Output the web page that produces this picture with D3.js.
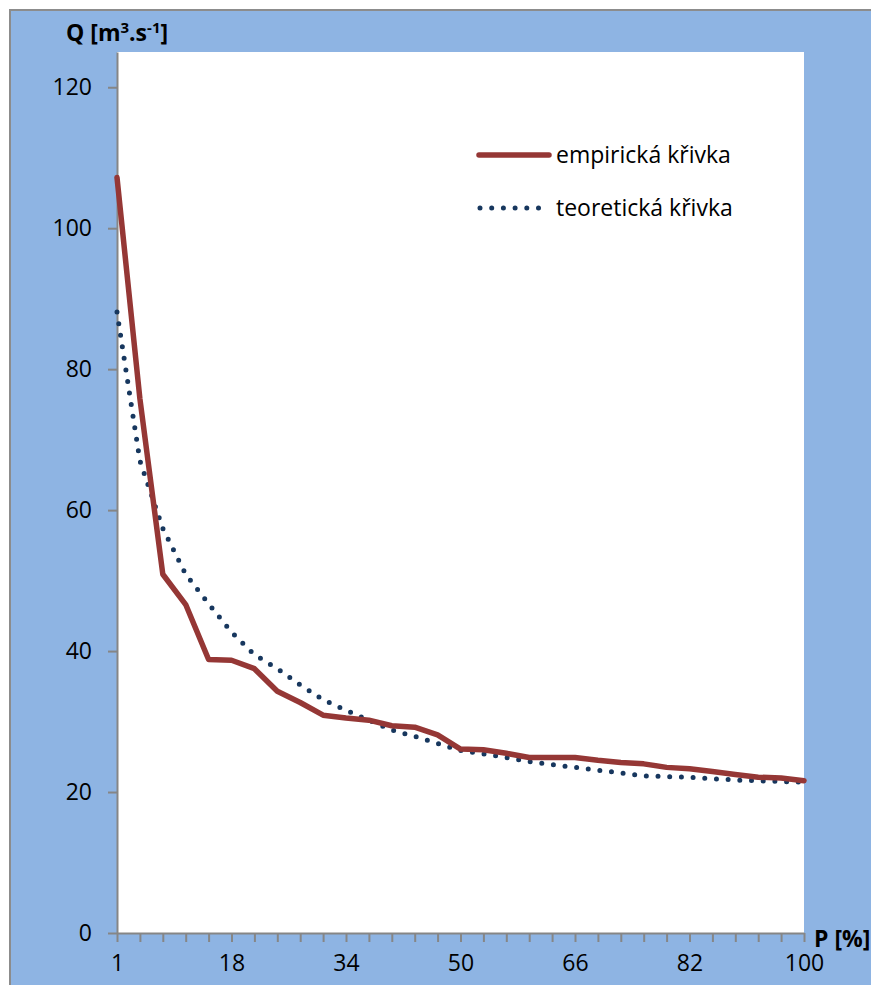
<!DOCTYPE html>
<html>
<head>
<meta charset="utf-8">
<script src="https://cdn.jsdelivr.net/npm/d3@7"></script>
<style>
  body { margin: 0; background: #fff; }
  text { font-family: "Open Sans", "Liberation Sans", sans-serif; fill: #000; }
</style>
</head>
<body>
<script>
// P [%] categories (only every 5th one is labelled)
const pCategories = ["1", "5", "8", "11", "14", "18", "21", "24", "27", "31", "34", "37", "40", "44", "47",
  "50", "53", "56", "60", "63", "66", "69", "73", "76", "79", "82", "85", "89", "92", "95", "100"];

const empirical = [107.2, 75.8, 50.9, 46.6, 38.8, 38.7, 37.5, 34.3, 32.7, 30.9, 30.5, 30.2, 29.4, 29.2, 28.1,
  26.1, 26.0, 25.5, 24.9, 24.9, 24.9, 24.5, 24.2, 24.0, 23.5, 23.3, 22.9, 22.5, 22.1, 22.0, 21.6];

const theoretical = [88.1, 67.0, 57.4, 50.9, 46.7, 42.7, 39.5, 37.5, 35.2, 33.1, 31.6, 30.2, 28.8, 27.9, 26.9,
  25.9, 25.4, 24.9, 24.3, 23.9, 23.5, 23.1, 22.7, 22.3, 22.2, 22.1, 21.9, 21.7, 21.6, 21.5, 21.4];

const yTicks = [0, 20, 40, 60, 80, 100, 120];
const seriesNames = ["empirická křivka", "teoretická křivka"];

const W = 871, H = 985;
const plot = {left: 117, right: 804, top: 52, bottom: 933};

const svg = d3.select("body").append("svg")
  .attr("width", W)
  .attr("height", H);

// chart area background
svg.append("rect")
  .attr("x", 10).attr("y", 10)
  .attr("width", 900).attr("height", 1000)
  .attr("fill", "#8eb4e3")
  .attr("stroke", "#8c8c8c")
  .attr("stroke-width", 2);

svg.append("rect")
  .attr("x", plot.left).attr("y", plot.top)
  .attr("width", plot.right - plot.left)
  .attr("height", plot.bottom - plot.top)
  .attr("fill", "#fff");

const x = d3.scalePoint()
  .domain(pCategories)
  .range([plot.left, plot.right]);

const y = d3.scaleLinear()
  .domain([0, 125])
  .range([plot.bottom, plot.top]);

// y axis
const yAxis = d3.axisLeft(y)
  .tickValues(yTicks)
  .tickSize(9)
  .tickSizeOuter(0);

const gy = svg.append("g")
  .attr("transform", "translate(" + plot.left + ",0)")
  .call(yAxis);
gy.select(".domain").attr("stroke", "#868686").attr("stroke-width", 2);
gy.selectAll(".tick line").attr("stroke", "#868686").attr("stroke-width", 2);
gy.selectAll(".tick text")
  .style("font-size", "23px")
  .attr("fill", "#000")
  .attr("x", -25);

// x axis
const xAxis = d3.axisBottom(x)
  .tickValues(pCategories)
  .tickSize(9)
  .tickSizeOuter(0)
  .tickFormat((d, i) => i % 5 === 0 ? d : "");

const gx = svg.append("g")
  .attr("transform", "translate(0," + plot.bottom + ")")
  .call(xAxis);
gx.select(".domain").attr("stroke", "#868686").attr("stroke-width", 2);
gx.selectAll(".tick line").attr("stroke", "#868686").attr("stroke-width", 2);
gx.selectAll(".tick text")
  .style("font-size", "23px")
  .attr("fill", "#000")
  .attr("y", 22);

// axis titles
const yTitle = svg.append("text")
  .attr("x", 66)
  .attr("y", 41)
  .style("font-size", "23px")
  .style("font-weight", "bold");
yTitle.append("tspan").text("Q [m");
yTitle.append("tspan").text("3").style("font-size", "15px").attr("dy", -8);
yTitle.append("tspan").text(".s").attr("dy", 8);
yTitle.append("tspan").text("-1").style("font-size", "15px").attr("dy", -8);
yTitle.append("tspan").text("]").attr("dy", 8);

svg.append("text")
  .attr("x", 814)
  .attr("y", 947)
  .style("font-size", "23px")
  .style("font-weight", "bold")
  .text("P [%]");

// series
const line = d3.line()
  .x((d, i) => x(pCategories[i]))
  .y(d => y(d));

svg.append("path")
  .datum(theoretical)
  .attr("d", line)
  .attr("fill", "none")
  .attr("stroke", "#17375e")
  .attr("stroke-width", 5)
  .attr("stroke-linecap", "round")
  .attr("stroke-dasharray", "0 11.7");

svg.append("path")
  .datum(empirical)
  .attr("d", line)
  .attr("fill", "none")
  .attr("stroke", "#953735")
  .attr("stroke-width", 5.5)
  .attr("stroke-linejoin", "round")
  .attr("stroke-linecap", "round");

// legend
const legend = svg.append("g");
legend.append("line")
  .attr("x1", 479).attr("x2", 549)
  .attr("y1", 155).attr("y2", 155)
  .attr("stroke", "#953735")
  .attr("stroke-width", 5.5)
  .attr("stroke-linecap", "round");
legend.append("text")
  .attr("x", 556).attr("y", 155)
  .attr("dy", "0.35em")
  .style("font-size", "23px")
  .text(seriesNames[0]);

legend.append("line")
  .attr("x1", 480).attr("x2", 540)
  .attr("y1", 208).attr("y2", 208)
  .attr("stroke", "#17375e")
  .attr("stroke-width", 5)
  .attr("stroke-linecap", "round")
  .attr("stroke-dasharray", "0 11.7");
legend.append("text")
  .attr("x", 556).attr("y", 208)
  .attr("dy", "0.35em")
  .style("font-size", "23px")
  .text(seriesNames[1]);
</script>
</body>
</html>
